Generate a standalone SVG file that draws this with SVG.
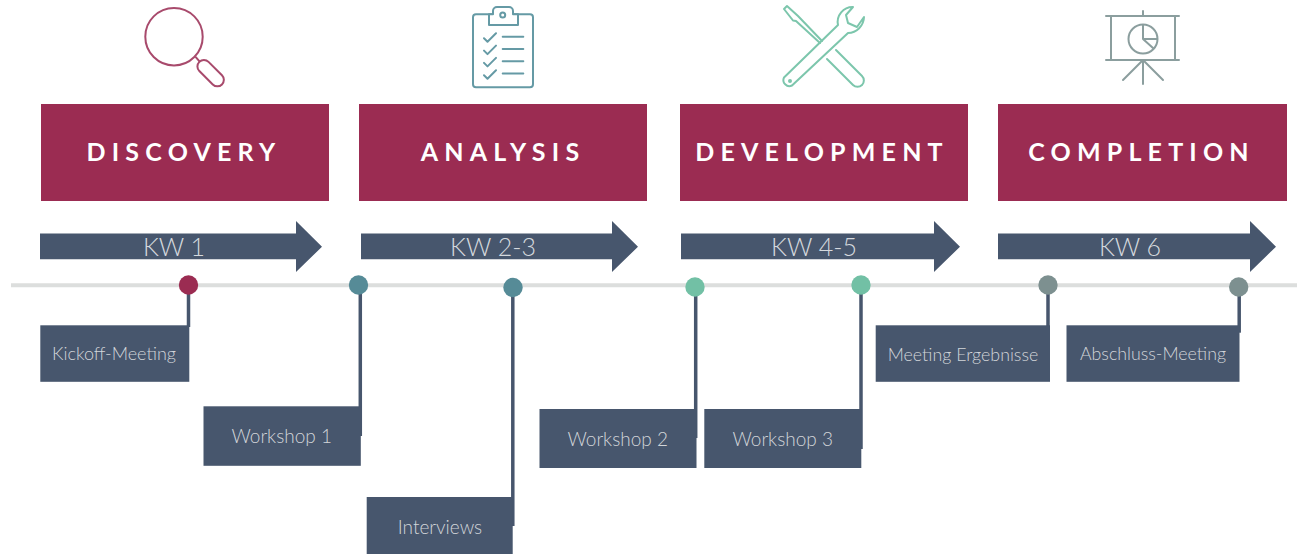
<svg xmlns="http://www.w3.org/2000/svg" width="1297" height="554" viewBox="0 0 1297 554">
<style>
text{font-family:Lato,"Open Sans","Liberation Sans",sans-serif}
.banner{fill:#9b2c52}
.bt{fill:#fff;font-size:25px;font-weight:700;letter-spacing:6.2px;text-anchor:middle}
.arrow{fill:#47566d}
.at{fill:#d5d9de;font-size:25px;font-weight:300;text-anchor:middle}
.box{fill:#47566d}
.lt{fill:#d2d5d9;font-size:18px;font-weight:300;text-anchor:middle}
.lg{font-size:19px}
.conn{stroke:#47566d;stroke-width:3.500;fill:none}
.axis{stroke:#dcdedd;stroke-width:4;fill:none}
.ic{fill:none;stroke-width:2;stroke-linecap:round;stroke-linejoin:round}
</style>
<rect width="1297" height="554" fill="#fff"/>
<g id="icons">
<g id="icon-discovery" class="ic" stroke="#a84a6c">
<circle cx="174" cy="36.700" r="28.700"/>
<path d="M196 57.300l3.500 4"/>
<rect x="-16.500" y="-6.500" width="32" height="13" rx="6.500" transform="translate(211 73.500) rotate(45)"/>
</g>
<g id="icon-analysis" class="ic" stroke="#659aa5">
<rect x="473" y="14.300" width="60" height="73" rx="3"/>
<path d="M489 14.300v10.700h29v-10.700h-5v-3.300a4 4 0 0 0-4-4h-12a4 4 0 0 0-4 4v3.300z" fill="#fff"/>
<circle cx="502.700" cy="15" r="2.500"/>
<path d="M484 38.300l3.500 3.500 8.500-8.500M484 50.600l3.500 3.500 8.500-8.500M484 62.900l3.500 3.500 8.500-8.500M484 75.200l3.500 3.500 8.500-8.500M502.700 36.700h20.600M502.700 49h20.600M502.700 61.300h20.600M502.700 73.500h20.600"/>
</g>
<g id="icon-development" class="ic" stroke="#7cc6ac">
<path d="M820 43L796 21 793 20.500 784 9 787 6 798 16 822 41"/>
<path d="M836 50l26 26a6.300 6.300 0 0 1-9 9L827 59"/>
<path d="M838 25a15 15 0 0 1 15-18l-7 8 2 8 9 4 7-10a16.500 16.500 0 0 1-16 16L792 85.500a6 6 0 0 1-8-8z"/>
<circle cx="790" cy="81" r="1"/>
</g>
<g id="icon-completion" class="ic" stroke="#8b9e9e">
<path d="M1106 16h73M1106 60h73M1111 16v44M1175 16v44M1143 11v5M1143 60v24M1143 60l-20 20M1143 60l20 20"/>
<circle cx="1143" cy="39" r="14.500"/>
<path d="M1143 25v14h14M1143 39l10 9"/>
</g>
</g>
<g id="axis"><path class="axis" d="M11 285.300H1297"/></g>
<g id="connectors">
<path class="conn" d="M188.500 285V327"/>
<path class="conn" d="M360.300 285V436"/>
<path class="conn" d="M512.800 285V526"/>
<path class="conn" d="M695.700 285V438"/>
<path class="conn" d="M861 285V449"/>
<path class="conn" d="M1048 285V327"/>
<path class="conn" d="M1239.200 285V332.700"/>
</g>
<g id="discovery"><rect class="banner" x="41" y="104" width="288" height="97"/><text class="bt" x="184" y="161">DISCOVERY</text></g>
<g id="analysis"><rect class="banner" x="359" y="104" width="288" height="97"/><text class="bt" x="503" y="161">ANALYSIS</text></g>
<g id="development"><rect class="banner" x="680" y="104" width="288" height="97"/><text class="bt" x="822" y="161">DEVELOPMENT</text></g>
<g id="completion"><rect class="banner" x="998" y="104" width="289" height="97"/><text class="bt" x="1141.500" y="161">COMPLETION</text></g>
<g id="kw1"><path class="arrow" d="M40 233.500H296V221L322 246.700 296 272V259.300H40z"/><text class="at" x="174" y="256">KW 1</text></g>
<g id="kw23"><path class="arrow" d="M361 233.500H612V221L638 246.700 612 272V259.300H361z"/><text class="at" x="493" y="256">KW 2-3</text></g>
<g id="kw45"><path class="arrow" d="M681 233.500H934V221L960 246.700 934 272V259.300H681z"/><text class="at" x="814" y="256">KW 4-5</text></g>
<g id="kw6"><path class="arrow" d="M998 233.500H1250V221L1276 246.700 1250 272V259.300H998z"/><text class="at" x="1130" y="256">KW 6</text></g>
<g id="dots">
<circle cx="188.500" cy="285" r="9.700" fill="#9b2c52"/>
<circle cx="358.500" cy="285" r="9.700" fill="#568b97"/>
<circle cx="513" cy="287.500" r="9.700" fill="#568b97"/>
<circle cx="695" cy="287" r="9.700" fill="#72c0a5"/>
<circle cx="861" cy="285" r="9.700" fill="#72c0a5"/>
<circle cx="1048" cy="285" r="9.700" fill="#7d9090"/>
<circle cx="1238.700" cy="287" r="9.700" fill="#7d9090"/>
</g>
<g id="kickoff"><rect class="box" x="40.300" y="325.300" width="149" height="56.500"/><text class="lt" x="114" y="360">Kickoff-Meeting</text></g>
<g id="workshop1"><rect class="box" x="203.500" y="406.300" width="157.300" height="59.500"/><text class="lt lg" x="281.700" y="443">Workshop 1</text></g>
<g id="interviews"><rect class="box" x="366.700" y="497" width="146" height="57"/><text class="lt lg" x="440" y="534">Interviews</text></g>
<g id="workshop2"><rect class="box" x="539.500" y="409" width="157" height="59"/><text class="lt lg" x="617.700" y="446">Workshop 2</text></g>
<g id="workshop3"><rect class="box" x="704.300" y="409" width="157" height="59"/><text class="lt lg" x="782.700" y="446">Workshop 3</text></g>
<g id="meeting"><rect class="box" x="875.700" y="325.300" width="174.300" height="56.500"/><text class="lt" x="963" y="361" style="font-size:17.800px">Meeting Ergebnisse</text></g>
<g id="abschluss"><rect class="box" x="1066.500" y="325.300" width="173" height="56.500"/><text class="lt" x="1153" y="360" style="font-size:17.800px">Abschluss-Meeting</text></g>
</svg>
